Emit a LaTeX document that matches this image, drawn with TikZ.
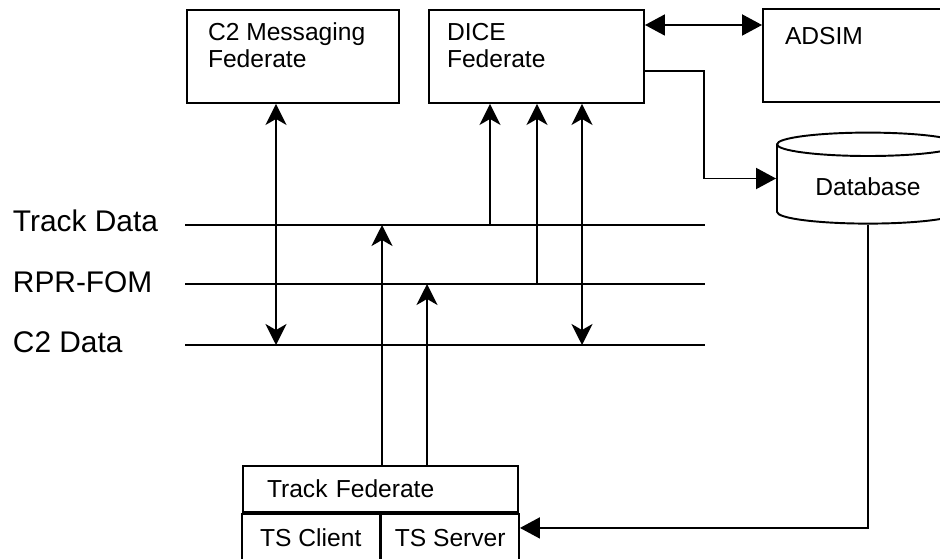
\documentclass[tikz,border=0pt]{standalone}
\usepackage{fontspec}
\setmainfont{Liberation Sans}
\usetikzlibrary{positioning}
\usetikzlibrary{calc}
\usetikzlibrary{arrows.meta}
\usetikzlibrary{shapes.geometric}
\newcommand{\boxfont}{\fontsize{14}{15.4}\selectfont}
\newcommand{\busfont}{\fontsize{17}{20}\selectfont}

\begin{document}
\begin{tikzpicture}[
    line width=1.1pt,
    barb/.style={-{Stealth[length=0.42cm,width=0.42cm,inset=0.12cm]}},
    barbbarb/.style={{Stealth[length=0.42cm,width=0.42cm,inset=0.12cm]}-{Stealth[length=0.42cm,width=0.42cm,inset=0.12cm]}},
    tri/.style={-{Triangle[length=0.4cm,width=0.42cm]}},
    tritri/.style={{Triangle[length=0.4cm,width=0.42cm]}-{Triangle[length=0.4cm,width=0.42cm]}},
    fed/.style={draw,minimum height=1.86cm,inner sep=0},
    fedtext/.style={align=left,inner sep=0,font=\boxfont},
    buslabel/.style={anchor=west,inner sep=0,font=\busfont},
    tsbox/.style={draw,minimum width=2.75cm,minimum height=0.96cm,inner sep=0,font=\boxfont}
]
\useasboundingbox (0,0) rectangle (18.8,11.16);

% Federates on top
\node[fed,minimum width=4.24cm] (c2) at (5.86,10.03){};
\node[fed,minimum width=4.30cm] (dice) at (10.73,10.03){};
\node[fed,minimum width=4.0cm] (adsim) at (17.26,10.05){};
\node[fedtext,anchor=north west] (c2txt) at ($(c2.north west)+(0.42,-0.26)$) {C2 Messaging\\Federate};
\node[fedtext,anchor=north west] (dicetxt) at ($(dice.north west)+(0.36,-0.26)$) {DICE\\Federate};
\node[fedtext,anchor=north west] (adsimtxt) at ($(adsim.north west)+(0.44,-0.36)$) {ADSIM};

% Database
\node[cylinder,shape border rotate=90,draw,aspect=0.2,minimum width=3.64cm,minimum height=1.82cm,font=\boxfont] (db) at (17.36,7.43) {Database};

% Track federate
\node[draw,minimum width=5.5cm,minimum height=0.92cm,text width=4.54cm,inner xsep=0.48cm,inner ysep=0,align=left,font=\boxfont] (trk) at (7.61,1.38) {Track Federate};
\node[tsbox,anchor=north east] (tsc) at (trk.south) {TS Client};
\node[tsbox,anchor=north west] (tss) at (trk.south) {TS Server};

% Bus lines
\coordinate (tdW) at (3.70,6.66);
\coordinate (tdE) at (14.10,6.66);
\coordinate (rpW) at (3.70,5.48);
\coordinate (rpE) at (14.10,5.48);
\coordinate (cdW) at (3.70,4.26);
\coordinate (cdE) at (14.10,4.26);
\draw (tdW) -- (tdE);
\draw (rpW) -- (rpE);
\draw (cdW) -- (cdE);
\node[buslabel] (tdlab) at (0.24,6.74) {Track Data};
\node[buslabel] (rplab) at (0.24,5.52) {RPR-FOM};
\node[buslabel] (cdlab) at (0.24,4.32) {C2 Data};

% Connections
\draw[barbbarb] ([xshift=-0.34cm]c2.south) -- ([xshift=-0.34cm]c2.south |- cdW);
\draw[barb] ([xshift=-0.93cm]dice.south |- tdW) -- ([xshift=-0.93cm]dice.south);
\draw[barb] ([xshift=0.01cm]dice.south |- rpW) -- ([xshift=0.01cm]dice.south);
\draw[barbbarb] ([xshift=0.91cm]dice.south) -- ([xshift=0.91cm]dice.south |- cdW);
\draw[tritri] ([yshift=0.63cm]dice.east) -- ([yshift=0.63cm]dice.east -| adsim.west);
\draw[tri] ([yshift=-0.29cm]dice.east) -- ++(1.18,0) |- ([yshift=0.16cm]db.west);
\draw[tri] (db.south) |- ([yshift=0.2cm]tss.east);
\draw[barb] ([xshift=0.03cm]trk.north) -- ([xshift=0.03cm]trk.north |- tdW);
\draw[barb] ([xshift=0.93cm]trk.north) -- ([xshift=0.93cm]trk.north |- rpW);
\end{tikzpicture}
\end{document}
